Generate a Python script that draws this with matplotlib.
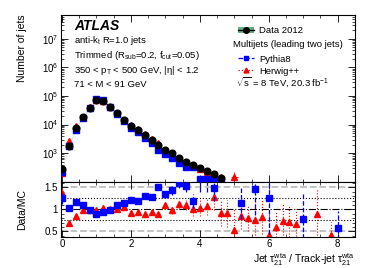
import numpy as np
import matplotlib
matplotlib.use("Agg")
import matplotlib.pyplot as plt
from matplotlib.lines import Line2D
from matplotlib.patches import Patch
from matplotlib.ticker import MultipleLocator, LogLocator, NullFormatter

plt.rcParams['font.family'] = ['Liberation Sans', 'DejaVu Sans']
plt.rcParams['mathtext.fontset'] = 'custom'
plt.rcParams['mathtext.rm'] = 'Liberation Sans'
plt.rcParams['mathtext.it'] = 'Liberation Sans:italic'

# main panel (bin centres 0.0 .. 4.6)
x_main = np.arange(24) * 0.2
data = [270, 1800, 7400, 18000, 39000, 72000, 68000, 42000, 25000, 15000, 9100, 6400,
        4300, 2900, 2000, 1300, 980, 700, 500, 380, 290, 230, 180, 135]
pythia = [216, 1750, 6380, 16400, 39400, 80900, 72300, 42900, 22900, 13200, 7460, 5380,
          3280, 2270, 1330, 970, 685, 438, 327, 319, 125, 120, 121, 110]
herwig = [197, 2650, 8600, 18200, 39800, 73500, 66000, 41600, 24750, 14300, 9900, 6900,
          4780, 3050, 2250, 1180, 1000, 625, 455, 376, 279, 215, 141, 147]
# extra Herwig++ bin above the lower edge
x_hw_extra = [5.0]
hw_extra = [150]
hw_extra_err = [[46], [70]]

# ratio panel (bin centres 0.0 .. 8.4)
x_ratio = np.arange(43) * 0.2
nan = np.nan
r_pythia = [1.25, 1.03, 1.16, 1.10, 0.99, 0.89, 0.94, 0.98, 1.09, 1.14, 1.22, 1.19,
            1.31, 1.28, 1.50, 1.34, 1.43, 1.60, 1.53, 1.19, 2.30, 1.90, 1.49, nan,
            nan, nan, 1.14, nan, 1.47, nan, 1.25, nan, nan, nan, nan, 0.78,
            nan, nan, nan, nan, 0.57, nan, nan]
e_pythia = [0.12, 0.02, 0.02, 0.01, 0.01, 0.01, 0.01, 0.01, 0.01, 0.02, 0.02, 0.03,
            0.04, 0.05, 0.07, 0.08, 0.10, 0.12, 0.14, 0.15, 0.90, 0.50, 0.30, 0,
            0, 0, 0.35, 0, 0.60, 0, 0.80, 0, 0, 0, 0, 0.60,
            0, 0, 0, 0, 0.40, 0, 0]
r_herwig = [1.37, 0.68, 0.86, 0.99, 0.98, 0.98, 1.03, 1.01, 1.01, 1.05, 0.92, 0.93,
            0.90, 0.95, 0.89, 1.10, 0.98, 1.12, 1.10, 1.01, 1.04, 1.07, 1.28, 0.92,
            0.91, 0.53, 0.85, 0.81, 0.76, 0.83, 0.41, 0.59, 0.74, 0.72, 0.67, nan,
            nan, 0.89, nan, 0.41, nan, nan, nan]
e_herwig = [0.12, 0.03, 0.02, 0.01, 0.01, 0.01, 0.01, 0.01, 0.01, 0.02, 0.02, 0.03,
            0.04, 0.05, 0.06, 0.08, 0.08, 0.10, 0.12, 0.15, 0.20, 0.20, 0.30, 0.30,
            0.30, 0.50, 0.30, 0.30, 0.40, 0.40, 0.50, 0.35, 0.40, 0.35, 0.35, 0,
            0, 0.60, 0, 0.30, 0, 0, 0]
main_yticks = [1e3, 1e4, 1e5, 1e6, 1e7]

green = '#6aae88'
fs = 6.8

fig = plt.figure(figsize=(3.74, 2.68), dpi=100)
ax = fig.add_axes([0.163, 0.322, 0.786, 0.623])
axr = fig.add_axes([0.163, 0.117, 0.786, 0.205], sharex=ax)

# main panel
ax.fill_between(x_main, np.array(data) * 0.95, np.array(data) * 1.05,
                color=green, alpha=0.5, lw=0, zorder=1)
ax.plot(x_main, herwig, '^', color='red', ms=3.8, zorder=2)
ax.plot(x_main, pythia, 's', color='blue', ms=4.0, zorder=3)
ax.errorbar(x_hw_extra, hw_extra, yerr=hw_extra_err, xerr=0.1, fmt='^', color='red',
            ms=3.8, elinewidth=0.6, capsize=0, zorder=2)
ax.plot(x_main, data, 'o', color='black', ms=4.8, zorder=4)
ax.set_yscale('log')
ax.set_ylim(100, 7e7)
ax.set_xlim(-0.03, 8.5)
ax.set_ylabel('Number of jets', fontsize=7.5, loc='top')
ax.set_yticks(main_yticks)
ax.yaxis.set_minor_locator(LogLocator(base=10, subs=np.arange(2, 10), numticks=20))
ax.yaxis.set_minor_formatter(NullFormatter())
plt.setp(ax.get_xticklabels(), visible=False)

# text block
ax.text(0.045, 0.93, 'ATLAS', transform=ax.transAxes, fontsize=10, fontweight='bold',
        fontstyle='italic', va='center')
lines = [r'anti-$\mathregular{k_{t}}$ R=1.0 jets',
         r'Trimmed ($\mathregular{R_{sub}}$=0.2, $\mathregular{f_{cut}}$=0.05)',
         r'350 < $\mathregular{p_{T}}$ < 500 GeV, |η| < 1.2',
         '71 < M < 91 GeV']
for i, s in enumerate(lines):
    ax.text(0.045, 0.845 - i * 0.088, s, transform=ax.transAxes, fontsize=fs, va='center')

h_data = (Patch(facecolor=green, edgecolor='none'),
          Line2D([], [], color='black', marker='o', ms=4, lw=1))
leg1 = ax.legend([h_data], ['Data 2012'], loc='upper left', bbox_to_anchor=(0.58, 0.97),
                 frameon=False, fontsize=fs, handlelength=1.7, handletextpad=0.5,
                 borderpad=0.2)
ax.add_artist(leg1)
ax.text(0.585, 0.82, 'Multijets (leading two jets)', transform=ax.transAxes,
        fontsize=fs, va='center')
h_py = Line2D([], [], color='blue', ls='--', marker='s', ms=3.5, lw=0.9)
h_hw = Line2D([], [], color='red', ls=':', marker='^', ms=3.5, lw=0.9)
ax.legend([h_py, h_hw], ['Pythia8', 'Herwig++'], loc='upper left',
          bbox_to_anchor=(0.58, 0.80), frameon=False, fontsize=fs, handlelength=1.7,
          handletextpad=0.5, borderpad=0.2, labelspacing=0.3)
ax.text(0.595, 0.595, r'$\mathregular{\sqrt{s}}$ = 8 TeV, 20.3 fb$^{\mathregular{-1}}$',
        transform=ax.transAxes, fontsize=fs, va='center')

# ratio panel
for yv, st, c, lw in [(1.5, '--', '0.75', 1.3), (0.5, '--', '0.75', 1.3),
                      (1.25, ':', 'black', 0.8), (0.75, ':', 'black', 0.8),
                      (1.0, '-.', 'black', 0.8)]:
    axr.axhline(yv, ls=st, color=c, lw=lw, zorder=0)
eb = axr.errorbar(x_ratio, r_herwig, yerr=e_herwig, fmt='^', color='red', ms=3.8,
                  elinewidth=0.8, capsize=0, zorder=2)
eb[2][0].set_linestyle(':')
eb = axr.errorbar(x_ratio, r_pythia, yerr=e_pythia, fmt='s', color='blue', ms=4.0,
                  elinewidth=0.9, capsize=0, zorder=3)
eb[2][0].set_linestyle('--')
axr.set_ylim(0.38, 1.63)
axr.set_yticks([0.5, 1, 1.5])
axr.set_yticklabels(['0.5', '1', '1.5'])
axr.yaxis.set_minor_locator(MultipleLocator(0.1))
axr.set_ylabel('Data/MC', fontsize=7.5)
axr.set_xticks([0, 2, 4, 6, 8])
axr.xaxis.set_minor_locator(MultipleLocator(0.5))
axr.set_xlabel(r'Jet $\mathregular{\tau_{21}^{wta}}$ / Track-jet $\mathregular{\tau_{21}^{wta}}$',
               fontsize=7.5, loc='right', labelpad=1)

for a in (ax, axr):
    a.tick_params(which='both', direction='in', top=True, right=True, labelsize=7, pad=2)
    a.tick_params(which='major', length=5, width=0.6)
    a.tick_params(which='minor', length=2.5, width=0.5)
    for sp in a.spines.values():
        sp.set_linewidth(0.8)
ax.yaxis.set_label_coords(-0.115, 1.0)
axr.yaxis.set_label_coords(-0.115, 0.5)

fig.savefig('out.png', dpi=100)
